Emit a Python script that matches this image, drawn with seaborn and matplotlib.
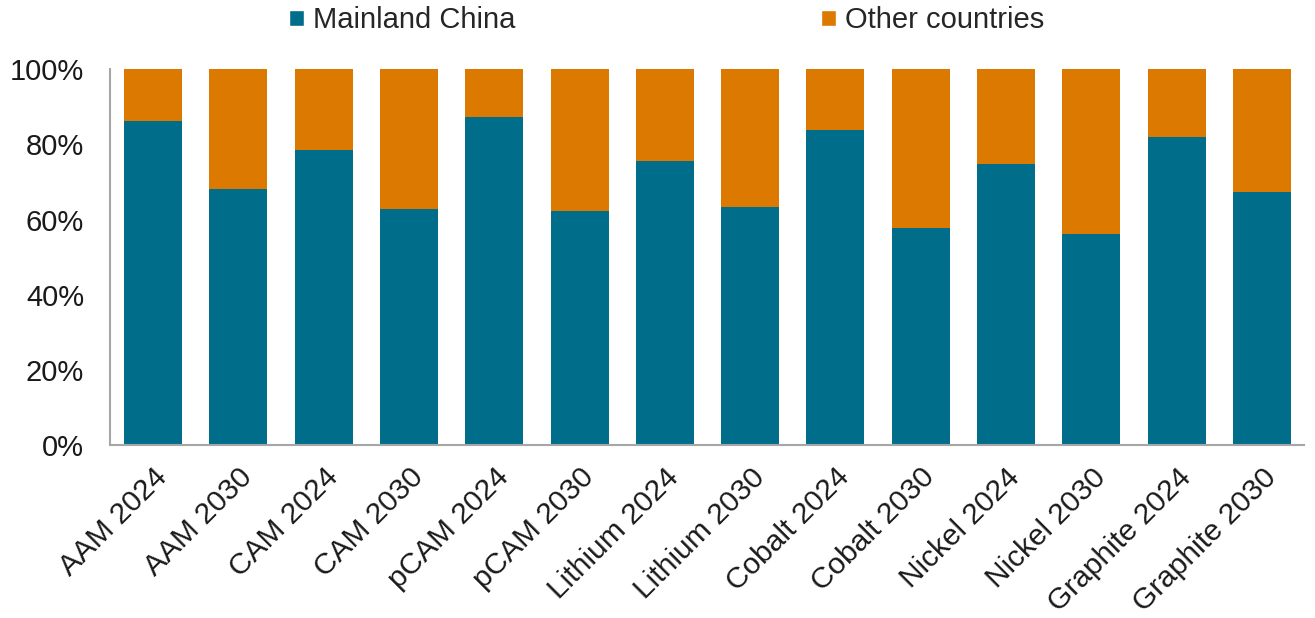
import matplotlib
matplotlib.use("Agg")
import matplotlib.pyplot as plt
import seaborn as sns
import pandas as pd
from matplotlib.patches import Patch
from matplotlib.ticker import PercentFormatter

categories = ["AAM 2024", "AAM 2030", "CAM 2024", "CAM 2030", "pCAM 2024", "pCAM 2030",
              "Lithium 2024", "Lithium 2030", "Cobalt 2024", "Cobalt 2030",
              "Nickel 2024", "Nickel 2030", "Graphite 2024", "Graphite 2030"]
china = [86.2, 68.2, 78.5, 62.8, 87.3, 62.2, 75.6, 63.2, 83.8, 57.8, 74.7, 56.1, 81.9, 67.3]
other = [100 - c for c in china]
series_names = ["Mainland China", "Other countries"]
colors = ["#006E8A", "#DB7900"]
yticks = [0, 20, 40, 60, 80, 100]

sns.set_style("white")
plt.rcParams['font.family'] = ['Liberation Sans', 'DejaVu Sans']

df = pd.DataFrame({"category": categories, "china": china, "other": other})
df["total"] = df["china"] + df["other"]

fig = plt.figure(figsize=(13.15, 6.18), dpi=100)
ax = fig.add_axes([0.084, 0.28, 0.908, 0.608])

sns.barplot(data=df, x="category", y="total", color=colors[1], width=0.68,
            saturation=1, ax=ax, order=categories, linewidth=0)
sns.barplot(data=df, x="category", y="china", color=colors[0], width=0.68,
            saturation=1, ax=ax, order=categories, linewidth=0)

ax.set_ylim(0, 100)
ax.set_xlim(-0.5, len(categories) - 0.5)
ax.set_yticks(yticks)
ax.yaxis.set_major_formatter(PercentFormatter(decimals=0))
ax.set_xlabel("")
ax.set_ylabel("")
ax.tick_params(axis='y', labelsize=21, length=0, pad=19, colors='#1a1a1a')
ax.tick_params(axis='x', labelsize=21.5, length=0, pad=13, colors='#1a1a1a')
plt.setp(ax.get_xticklabels(), rotation=45, ha='right', rotation_mode='anchor')

for s in ["top", "right"]:
    ax.spines[s].set_visible(False)
for s in ["left", "bottom"]:
    ax.spines[s].set_color("#A6A6A6")
    ax.spines[s].set_linewidth(1.5)

handles = [Patch(facecolor=c, label=n) for c, n in zip(colors, series_names)]
fig.legend(handles=handles, loc='upper center', bbox_to_anchor=(0.507, 1.032), ncol=2,
           frameon=False, fontsize=21, handlelength=0.5, handleheight=0.5,
           handletextpad=0.3, columnspacing=10.5)

fig.savefig("out.png", dpi=100)
